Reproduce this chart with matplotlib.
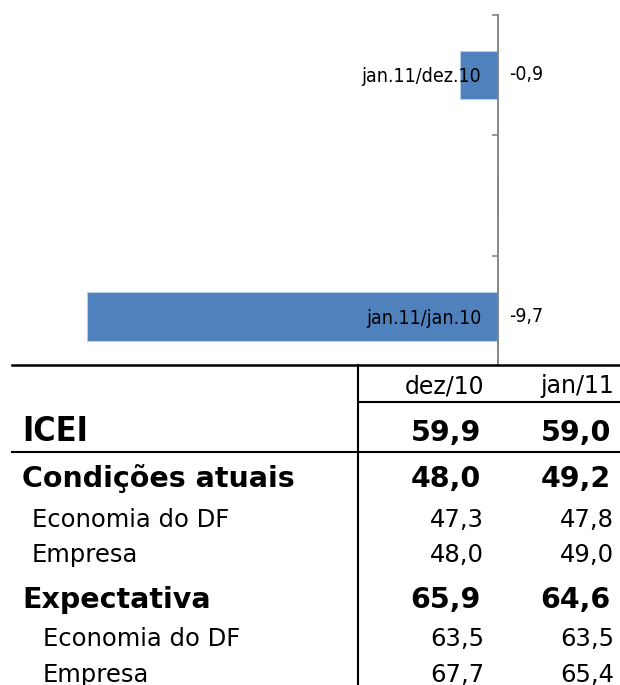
import matplotlib.pyplot as plt
import numpy as np
from matplotlib import font_manager

# bar chart data (middle category is an empty slot in the original chart)
categories = ['jan.11/dez.10', '', 'jan.11/jan.10']
variation = [-0.9, 0.0, -9.7]

# table data
columns = ['dez/10', 'jan/11']
rows = ['ICEI', 'Condições atuais', 'Economia do DF', 'Empresa',
        'Expectativa', 'Economia do DF', 'Empresa']
dez10 = [59.9, 48.0, 47.3, 48.0, 65.9, 63.5, 67.7]
jan11 = [59.0, 49.2, 47.8, 49.0, 64.6, 63.5, 65.4]

W, H = 620, 685


def fmt(v):
    return f"{v:.1f}".replace('.', ',')


def find_narrow(bold):
    # look for any narrow/condensed face, otherwise None
    for f in font_manager.fontManager.ttflist:
        narrowish = ('Narrow' in f.name or 'Condensed' in f.name
                     or f.stretch in ('condensed', 'semi-condensed', 'extra-condensed'))
        w = f.weight
        if isinstance(w, str):
            w = font_manager.weight_dict.get(w, 400)
        if narrowish and f.style == 'normal' and ((w >= 700) == bold):
            return f.fname
    return None


nreg = find_narrow(False)
nbold = find_narrow(True)
if nreg:
    lab_font = dict(fontproperties=font_manager.FontProperties(fname=nreg, size=14))
else:
    lab_font = dict(family='Liberation Sans', fontsize=14)
if nbold:
    icei_font = dict(fontproperties=font_manager.FontProperties(fname=nbold, size=24.5))
else:
    icei_font = dict(family='Liberation Sans', fontsize=24, fontweight='bold')

fig = plt.figure(figsize=(W/100, H/100), dpi=100)

# ---- bar chart ----
top_px, bot_px = 14.6, 364
ax = fig.add_axes([0, 1 - bot_px/H, 1, (bot_px - top_px)/H])
pos = np.arange(len(categories))
ax.barh(pos, variation, height=0.4, color='#4F81BD', edgecolor='#B9CDE5', linewidth=0.8)
ax.set_xlim(-11.75, 2.88)
ax.set_ylim(-0.5 + (bot_px - top_px)/120.8, -0.5)

for s in ['top', 'right', 'bottom']:
    ax.spines[s].set_visible(False)
ax.spines['left'].set_position(('data', 0))
ax.spines['left'].set_color('#868686')
ax.spines['left'].set_linewidth(1.4)
ax.set_xticks([])
ax.set_yticks([-0.5, 0.5, 1.5])
ax.set_yticklabels([])
ax.tick_params(axis='y', which='major', direction='out', length=4.5, width=1.2, color='#868686')
ax.set_yticks(pos, minor=True)
ax.set_yticklabels(categories, minor=True, **lab_font)
ax.tick_params(axis='y', which='minor', length=0, pad=12)

for i, v in enumerate(variation):
    if categories[i]:
        ax.annotate(fmt(v), (0, i), xytext=(8, 0), textcoords='offset points',
                    ha='left', va='center', **lab_font)

# ---- table ----
tab = fig.add_axes([0, 0, 1, 1], zorder=3)
tab.set_xlim(0, W)
tab.set_ylim(H, 0)
tab.axis('off')

tab.plot([12, W], [364.5, 364.5], color='black', lw=1.8)
tab.plot([358, 358], [364.5, H], color='black', lw=1.5)
tab.plot([358, W], [401.7, 401.7], color='black', lw=1.5)
tab.plot([12, W], [452.3, 452.3], color='black', lw=1.5)

col_x = [484, 614]
for c, x in zip(columns, col_x):
    tab.text(x, 393, c, ha='right', va='baseline', fontsize=17)

baselines = [441, 487, 527, 562, 608, 646, 682]
indent = [22, 22, 32, 32, 22, 43, 43]
bold = [True, True, False, False, True, False, False]

for i, name in enumerate(rows):
    y = baselines[i]
    if i == 0:
        tab.text(indent[i], y, name, ha='left', va='baseline', **icei_font)
    elif bold[i]:
        tab.text(indent[i], y, name, ha='left', va='baseline', fontsize=20.5,
                 fontweight='bold')
    else:
        tab.text(indent[i], y, name, ha='left', va='baseline', fontsize=17.5)
    for vals, x in zip([dez10, jan11], col_x):
        if bold[i]:
            tab.text(x - 3, y, fmt(vals[i]), ha='right', va='baseline',
                     fontsize=20.5, fontweight='bold')
        else:
            tab.text(x, y, fmt(vals[i]), ha='right', va='baseline', fontsize=17.5)

fig.savefig('out.png', dpi=100)
